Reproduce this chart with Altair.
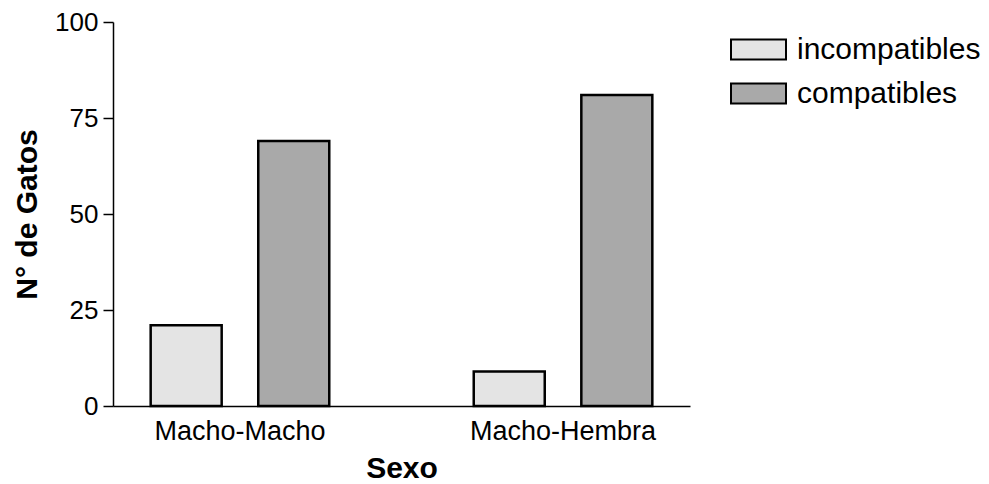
import altair as alt
import pandas as pd

sexo = ["Macho-Macho", "Macho-Hembra"]
grupos = ["incompatibles", "compatibles"]
incompatibles = [21, 9]
compatibles = [69, 81]

rows = []
for i, s in enumerate(sexo):
    rows.append({"sexo": s, "grupo": "incompatibles", "n": incompatibles[i]})
    rows.append({"sexo": s, "grupo": "compatibles", "n": compatibles[i]})
df = pd.DataFrame(rows)

FONT = "Liberation Sans"

chart = alt.Chart(df).mark_bar(stroke="black", strokeWidth=2.5).encode(
    x=alt.X("sexo:N", sort=sexo,
            scale=alt.Scale(paddingInner=0.334, paddingOuter=0.06),
            axis=alt.Axis(title="Sexo", labelAngle=0, ticks=False, labelLimit=0,
                          labelFontSize=27, labelPadding=12, labelColor="black",
                          titleFontSize=30, titleFontWeight="bold", titlePadding=9,
                          titleColor="black",
                          domainColor="black", domainWidth=1.5)),
    xOffset=alt.XOffset("grupo:N", sort=grupos,
                        scale=alt.Scale(paddingInner=0.34, paddingOuter=0.17)),
    y=alt.Y("n:Q", scale=alt.Scale(domain=[0, 100], nice=False),
            axis=alt.Axis(title="N° de Gatos", values=[0, 25, 50, 75, 100],
                          grid=False, tickSize=10, tickColor="black", tickWidth=1.5,
                          labelFontSize=26, labelPadding=5, labelColor="black",
                          titleFontSize=30, titleFontWeight="bold", titlePadding=12,
                          titleColor="black",
                          domainColor="black", domainWidth=1.5)),
    color=alt.Color("grupo:N", sort=grupos,
                    scale=alt.Scale(domain=grupos, range=["#e4e4e4", "#a9a9a9"]),
                    legend=alt.Legend(title=None, orient="none", legendX=617, legendY=-1,
                                      symbolType="M-1,-0.364H1V0.364H-1Z", symbolSize=3025,
                                      symbolStrokeColor="black", symbolStrokeWidth=2,
                                      symbolOpacity=1, labelLimit=0,
                                      labelFontSize=30, labelColor="black", labelOffset=10,
                                      rowPadding=-8)),
).properties(
    width=577, height=384,
    padding={"left": 12, "top": 9, "right": 2, "bottom": 2},
).configure(
    font=FONT,
).configure_view(stroke=None)

chart.save("out.html", embed_options={"renderer": "svg", "actions": False})
